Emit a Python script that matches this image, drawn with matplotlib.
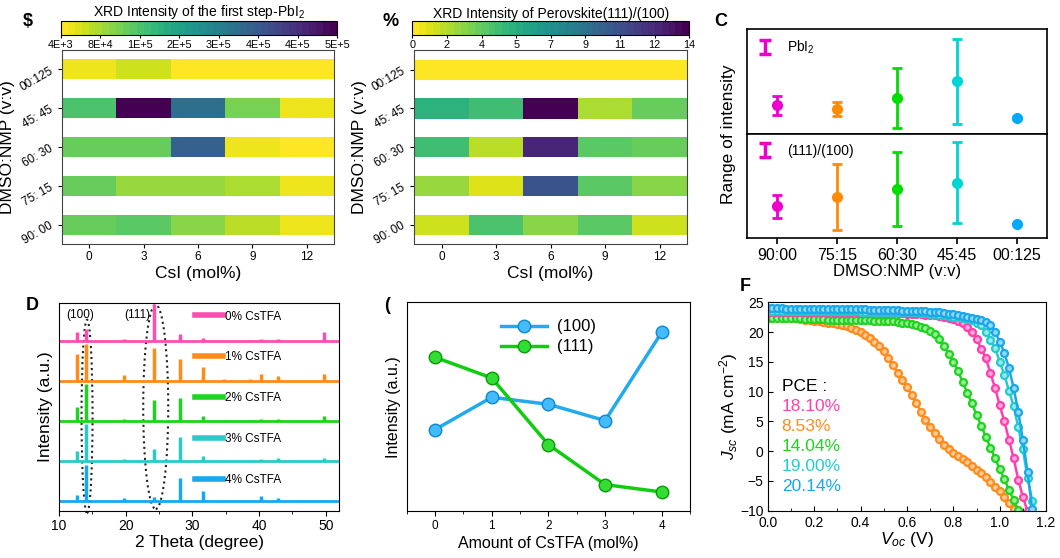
import numpy as np
import matplotlib
matplotlib.use('Agg')
import matplotlib.pyplot as plt
from matplotlib.colors import Normalize, to_rgb
from matplotlib.cm import ScalarMappable
from matplotlib.patches import Ellipse

plt.rcParams['font.family'] = ['Liberation Sans', 'DejaVu Sans']
plt.rcParams['mathtext.fontset'] = 'custom'
plt.rcParams['mathtext.rm'] = 'Liberation Sans'
plt.rcParams['mathtext.it'] = 'Liberation Sans:italic'

# ---------------- data ----------------
solvents = ['00:125', '45: 45', '60: 30', '75: 15', '90: 00']   # heatmap rows, top -> bottom
csi = [0, 3, 6, 9, 12]

pbi2_map = [[25000, 45000, 4400, 4400, 4400],
            [159000, 520000, 334000, 108000, 30000],
            [133000, 133000, 355000, 30000, 15000],
            [133000, 82000, 82000, 77000, 30000],
            [133000, 144000, 97000, 66000, 30000]]
pbi2_ticks = ['4E+3', '8E+4', '1E+5', '2E+5', '3E+5', '4E+5', '4E+5', '5E+5']

ratio_map = [[0.1, 0.1, 0.1, 0.1, 0.1],
             [5.3, 4.4, 14.2, 2.0, 3.4],
             [4.4, 1.6, 12.5, 3.6, 3.5],
             [2.4, 1.0, 10.6, 3.6, 2.8],
             [1.3, 4.0, 2.8, 3.8, 1.3]]
ratio_ticks = ['0', '2', '4', '5', '7', '9', '11', '12', '14']

ratios = ['90:00', '75:15', '60:30', '45:45', '00:125']
c_colors = ['#EE00CC', '#FF8C00', '#00DD00', '#00D4D4', '#00AAFF']
pbi2_mid = [28.7, 25.3, 36.0, 52.7, 15.7]
pbi2_lo = [18.7, 18.0, 5.7, 10.0, 14.6]
pbi2_hi = [37.7, 32.3, 66.3, 95.0, 16.8]
hkl_mid = [32.0, 41.0, 49.0, 55.3, 14.0]
hkl_lo = [20.0, 8.3, 11.7, 14.7, 14.0]
hkl_hi = [42.7, 74.0, 86.0, 96.0, 14.0]

# XRD patterns
cstfa = ['0% CsTFA', '1% CsTFA', '2% CsTFA', '3% CsTFA', '4% CsTFA']
xrd_colors = ['#FF4DB0', '#FF8C1A', '#1ED41E', '#2ACACA', '#18A8EC']
peak_pos = [12.7, 14.0, 19.8, 24.3, 28.2, 31.6, 34.8, 38.6, 40.3, 42.8, 49.8]
peak_h = [[9, 12, 1.5, 37, 7, 3, 0.5, 0.5, 2, 1.5, 9],
          [27, 37, 6, 33, 22, 14, 2, 1.5, 7, 5, 7],
          [14, 37, 1.5, 21, 23, 5, 0.5, 0.5, 2, 2, 5],
          [10, 37, 2, 12, 24, 5, 0.5, 0.5, 2, 3, 3],
          [6, 36, 3, 4, 23, 10, 1, 0.5, 5, 3, 1]]
baselines = [170, 130, 90, 50, 10]

# peak intensity vs CsTFA
amount = [0, 1, 2, 3, 4]
int_100 = [81.7, 114.0, 107.0, 90.7, 179.0]
int_111 = [154.0, 133.3, 66.7, 26.7, 19.3]

# J-V curves
volt = [0.00, 0.02, 0.04, 0.06, 0.08, 0.10, 0.12, 0.14, 0.16, 0.18,
        0.20, 0.22, 0.24, 0.26, 0.28, 0.30, 0.32, 0.34, 0.36, 0.38,
        0.40, 0.42, 0.44, 0.46, 0.48, 0.50, 0.52, 0.54, 0.56, 0.58,
        0.60, 0.62, 0.64, 0.66, 0.68, 0.70, 0.72, 0.74, 0.76, 0.78,
        0.80, 0.82, 0.84, 0.86, 0.88, 0.90, 0.92, 0.94, 0.96, 0.98,
        1.00, 1.02, 1.04, 1.06, 1.08, 1.10, 1.12, 1.14, 1.16]
j_orange = [22.9, 22.8, 22.7, 22.6, 22.5, 22.4, 22.3, 22.2, 22.1, 22.0,
            21.9, 21.8, 21.7, 21.6, 21.5, 21.3, 21.2, 21.0, 20.7, 20.4,
            20.0, 19.5, 19.0, 18.4, 17.7, 16.8, 15.6, 14.4, 13.1, 11.9,
            10.8, 9.4, 8.0, 6.6, 5.2, 4.1, 3.1, 2.1, 1.1, 0.4,
            -0.3, -0.8, -1.4, -1.9, -2.5, -3.1, -3.7, -4.4, -5.1, -6.0,
            -6.7, -7.7, -8.7, -9.8]
j_green = [22.4, 22.4, 22.4, 22.3, 22.3, 22.3, 22.3, 22.3, 22.2, 22.2,
           22.2, 22.2, 22.2, 22.1, 22.1, 22.1, 22.1, 22.0, 22.0, 22.0,
           22.0, 22.0, 22.0, 21.9, 21.9, 21.9, 21.8, 21.8, 21.7, 21.6,
           21.5, 21.4, 21.2, 20.9, 20.6, 20.2, 19.6, 18.8, 17.6, 16.3,
           15.0, 13.5, 11.6, 9.8, 8.0, 6.1, 4.3, 2.4, 0.6, -1.2,
           -3.0, -4.7, -6.5, -8.2, -9.9]
j_pink = [23.4, 23.4, 23.4, 23.4, 23.4, 23.4, 23.4, 23.4, 23.4, 23.4,
          23.3, 23.3, 23.3, 23.3, 23.3, 23.3, 23.3, 23.3, 23.3, 23.3,
          23.2, 23.2, 23.2, 23.2, 23.2, 23.2, 23.2, 23.2, 23.2, 23.2,
          23.1, 23.1, 23.0, 23.0, 22.9, 22.8, 22.8, 22.7, 22.6, 22.4,
          22.2, 21.9, 21.5, 20.8, 20.0, 18.9, 17.2, 15.6, 13.1, 10.6,
          7.7, 5.0, 1.9, -1.2, -4.8, -7.7, -10.1]
j_cyan = [23.6, 23.6, 23.6, 23.6, 23.6, 23.6, 23.6, 23.6, 23.5, 23.5,
          23.5, 23.5, 23.5, 23.5, 23.5, 23.5, 23.5, 23.5, 23.5, 23.5,
          23.4, 23.4, 23.4, 23.4, 23.4, 23.4, 23.4, 23.4, 23.4, 23.4,
          23.4, 23.3, 23.3, 23.2, 23.2, 23.1, 23.0, 22.9, 22.8, 22.7,
          22.6, 22.5, 22.3, 22.2, 22.0, 21.6, 21.2, 20.0, 18.7, 17.3,
          15.0, 12.8, 10.1, 7.6, 4.0, 0.3, -4.5, -8.3, -12.0]
j_blue = [24.0, 24.0, 24.0, 24.0, 23.9, 23.9, 23.9, 23.9, 23.9, 23.9,
          23.9, 23.9, 23.8, 23.8, 23.8, 23.8, 23.8, 23.8, 23.8, 23.8,
          23.8, 23.8, 23.7, 23.7, 23.7, 23.7, 23.7, 23.7, 23.7, 23.6,
          23.6, 23.6, 23.5, 23.5, 23.5, 23.4, 23.4, 23.3, 23.2, 23.1,
          23.0, 22.9, 22.7, 22.5, 22.3, 22.2, 22.0, 21.7, 21.1, 20.0,
          18.4, 16.5, 13.9, 10.6, 6.6, 1.8, -3.5, -9.8]
pce = ['18.10%', '8.53%', '14.04%', '19.00%', '20.14%']
jv_colors = ['#FF3FAE', '#FF8C1A', '#1ED41E', '#22CCCC', '#18A8EC']

# ---------------- figure ----------------
fig = plt.figure(figsize=(10.6, 5.58), dpi=100)


def heatmap(ax, cax, vals, vmin, vmax, ticklabels, title):
    cmap = plt.get_cmap('viridis_r', 40)
    norm = Normalize(vmin, vmax)
    edges = [c - 1.5 for c in csi] + [csi[-1] + 1.5]
    n = len(vals)
    for i, row in enumerate(vals):
        y = n - 1 - i
        ax.pcolormesh(edges, [y - 0.26, y + 0.26], [row], cmap=cmap, norm=norm)
    ax.set_xlim(edges[0], edges[-1])
    ax.set_ylim(-0.5, n - 0.5)
    ax.set_xticks(csi)
    ax.set_xticklabels([str(c) for c in csi], fontsize=8.5)
    ax.set_yticks(range(n))
    ax.set_yticklabels(solvents[::-1], fontsize=8.5, rotation=30)
    ax.set_xlabel('CsI (mol%)', fontsize=12.5, labelpad=2)
    ax.set_ylabel('DMSO:NMP (v:v)', fontsize=12.5, labelpad=2)
    ax.tick_params(length=3, pad=2)
    for s in ax.spines.values():
        s.set_color('#444444')
    sm = ScalarMappable(norm=norm, cmap=cmap)
    cb = fig.colorbar(sm, cax=cax, orientation='horizontal')
    cb.set_ticks(np.linspace(vmin, vmax, len(ticklabels)))
    cb.set_ticklabels(ticklabels)
    cb.ax.tick_params(labelsize=7.8, length=2.5, pad=1)
    cax.set_title(title, fontsize=10, pad=2)


ax_a = fig.add_axes([0.0585, 0.5627, 0.2566, 0.3477])
cax_a = fig.add_axes([0.0575, 0.9373, 0.2604, 0.0251])
heatmap(ax_a, cax_a, pbi2_map, 4400, 520000, pbi2_ticks,
        'XRD Intensity of the first step-PbI$_2$')

ax_b = fig.add_axes([0.3909, 0.5627, 0.2570, 0.3470])
cax_b = fig.add_axes([0.3890, 0.9373, 0.2613, 0.0251])
heatmap(ax_b, cax_b, ratio_map, 0, 14.2, ratio_ticks,
        'XRD Intensity of Perovskite(111)/(100)')

fig.text(0.026, 0.962, '\\$', fontsize=13, fontweight='bold', ha='center', va='center')
fig.text(0.368, 0.962, '%', fontsize=13, fontweight='bold', ha='center', va='center')

# ---- C ----
ax_c1 = fig.add_axes([0.7047, 0.7599, 0.283, 0.1882])
ax_c2 = fig.add_axes([0.7047, 0.5735, 0.283, 0.1864])
for ax, mid, lo, hi, lab, top in [(ax_c1, pbi2_mid, pbi2_lo, pbi2_hi, 'PbI$_2$', 105),
                                  (ax_c2, hkl_mid, hkl_lo, hkl_hi, '(111)/(100)', 104)]:
    for k in range(len(ratios)):
        ax.errorbar(k, mid[k], yerr=[[mid[k] - lo[k]], [hi[k] - mid[k]]], fmt='o',
                    color=c_colors[k], ms=7, capsize=3.5, elinewidth=2, capthick=2)
    h = ax.errorbar([np.nan], [np.nan], yerr=[1], fmt='none', color=c_colors[0],
                    capsize=4, elinewidth=2.5, capthick=2.5)
    ax.legend([h], [lab], loc='upper left', frameon=False, fontsize=10,
              handlelength=1.2, borderaxespad=0.3, handletextpad=1.0)
    ax.set_xlim(-0.5, 4.5)
    ax.set_ylim(0, top)
    ax.set_yticks([])
    for s in ax.spines.values():
        s.set_linewidth(1.2)
ax_c1.set_xticks([])
ax_c2.set_xticks(range(len(ratios)))
ax_c2.set_xticklabels(ratios, fontsize=11.5)
ax_c2.tick_params(length=4, width=1.2, pad=3)
ax_c2.set_xlabel('DMSO:NMP (v:v)', fontsize=12, labelpad=1)
fig.text(0.687, 0.76, 'Range of intensity', rotation=90, fontsize=12.5,
         ha='center', va='center')
fig.text(0.680, 0.962, 'C', fontsize=13, fontweight='bold', ha='center', va='center')

# ---- D ----
ax_d = fig.add_axes([0.0557, 0.0842, 0.2642, 0.3733])
for k in range(len(cstfa)):
    base = baselines[k]
    ax_d.plot([10, 52], [base, base], color=xrd_colors[k], lw=2, label=cstfa[k])
    ax_d.vlines(peak_pos, base, [base + h for h in peak_h[k]], color=xrd_colors[k], lw=2.5)
ax_d.add_patch(Ellipse((14.2, 94.5), 1.65, 193, fill=False, ls=':', lw=1.5,
                       color='#222222', clip_on=False))
ax_d.add_patch(Ellipse((24.5, 104), 3.75, 204, fill=False, ls=':', lw=1.5,
                       color='#222222', clip_on=False))
ax_d.text(13.2, 196, '(100)', fontsize=8.5, ha='center', va='center')
ax_d.text(21.8, 196, '(111)', fontsize=8.5, ha='center', va='center')
leg = ax_d.legend(loc='upper left', bbox_to_anchor=(0.47, 0.985), frameon=False,
                  fontsize=8.5, handlelength=2.3, handletextpad=0.2,
                  labelspacing=2.45, borderaxespad=0)
for ln in leg.get_lines():
    ln.set_linewidth(4)
ax_d.set_xlim(10, 52)
ax_d.set_ylim(0, 208)
ax_d.set_yticks([])
ax_d.set_xticks([10, 20, 30, 40, 50])
ax_d.set_xticks([15, 25, 35, 45], minor=True)
ax_d.tick_params(labelsize=10, length=3.5, pad=2)
ax_d.tick_params(which='minor', length=2)
ax_d.set_xlabel('2 Theta (degree)', fontsize=12.5, labelpad=2)
ax_d.set_ylabel('Intensity (a.u.)', fontsize=12.5, labelpad=4)
fig.text(0.030, 0.453, 'D', fontsize=13, fontweight='bold', ha='center', va='center')

# ---- E ----
ax_e = fig.add_axes([0.3837, 0.0837, 0.2673, 0.3746])
ax_e.plot(amount, int_100, '-o', color='#22AAEE', lw=2.5, ms=9, mec='#0F88CC',
          mfc='#44BBFF', label='(100)')
ax_e.plot(amount, int_111, '-o', color='#11CC11', lw=2.5, ms=9, mec='#0A9A0A',
          mfc='#33DD33', label='(111)')
ax_e.legend(loc='upper center', bbox_to_anchor=(0.5, 0.99), frameon=False, fontsize=12,
            handlelength=2.8, handletextpad=0.6, labelspacing=0.3)
ax_e.set_xlim(-0.5, 4.5)
ax_e.set_ylim(0, 209)
ax_e.set_yticks([])
ax_e.set_xticks(amount)
ax_e.set_xticks([-0.5, 0.5, 1.5, 2.5, 3.5, 4.5], minor=True)
ax_e.tick_params(labelsize=8.5, length=3.5, pad=3)
ax_e.tick_params(which='minor', length=2)
ax_e.set_xlabel('Amount of CsTFA (mol%)', fontsize=11.5, labelpad=3)
ax_e.set_ylabel('Intensity (a.u.)', fontsize=11.5, labelpad=4)
fig.text(0.365, 0.453, '(', fontsize=13, fontweight='bold', ha='center', va='center')

# ---- F ----
ax_f = fig.add_axes([0.7243, 0.0848, 0.2626, 0.3735])


def lighten(c, f=0.55):
    r, g, b = to_rgb(c)
    return (r + (1 - r) * f, g + (1 - g) * f, b + (1 - b) * f)


for j, c in [(j_orange, jv_colors[1]), (j_green, jv_colors[2]), (j_pink, jv_colors[0]),
             (j_cyan, jv_colors[3]), (j_blue, jv_colors[4])]:
    ax_f.plot(volt[:len(j)], j, '-o', color=c, lw=1.8, ms=5, mfc=lighten(c), mec=c, mew=1.6)
ax_f.set_xlim(0, 1.2)
ax_f.set_ylim(-10, 25)
ax_f.set_xticks([0.0, 0.2, 0.4, 0.6, 0.8, 1.0, 1.2])
ax_f.set_xticks([0.1, 0.3, 0.5, 0.7, 0.9, 1.1], minor=True)
ax_f.set_yticks([-10, -5, 0, 5, 10, 15, 20, 25])
ax_f.set_xticklabels(['0.0', '0.2', '0.4', '0.6', '0.8', '1.0', '1.2'])
ax_f.tick_params(direction='in', labelsize=10, length=3.5)
ax_f.tick_params(axis='x', pad=4)
ax_f.tick_params(axis='y', pad=3)
ax_f.tick_params(which='minor', direction='in', length=2)
ax_f.set_xlabel('$V_{oc}$ (V)', fontsize=12.5, labelpad=0)
ax_f.set_ylabel('$J_{sc}$ (mA cm$^{-2}$)', fontsize=12.5, labelpad=0)
ax_f.text(0.05, 0.595, 'PCE :', transform=ax_f.transAxes, fontsize=12.5, va='center')
for k in range(len(pce)):
    ax_f.text(0.05, 0.5 - 0.096 * k, pce[k], transform=ax_f.transAxes, fontsize=12.5,
              va='center', color=jv_colors[k])
fig.text(0.703, 0.487, 'F', fontsize=13, fontweight='bold', ha='center', va='center')

fig.savefig('out.png', dpi=100)
